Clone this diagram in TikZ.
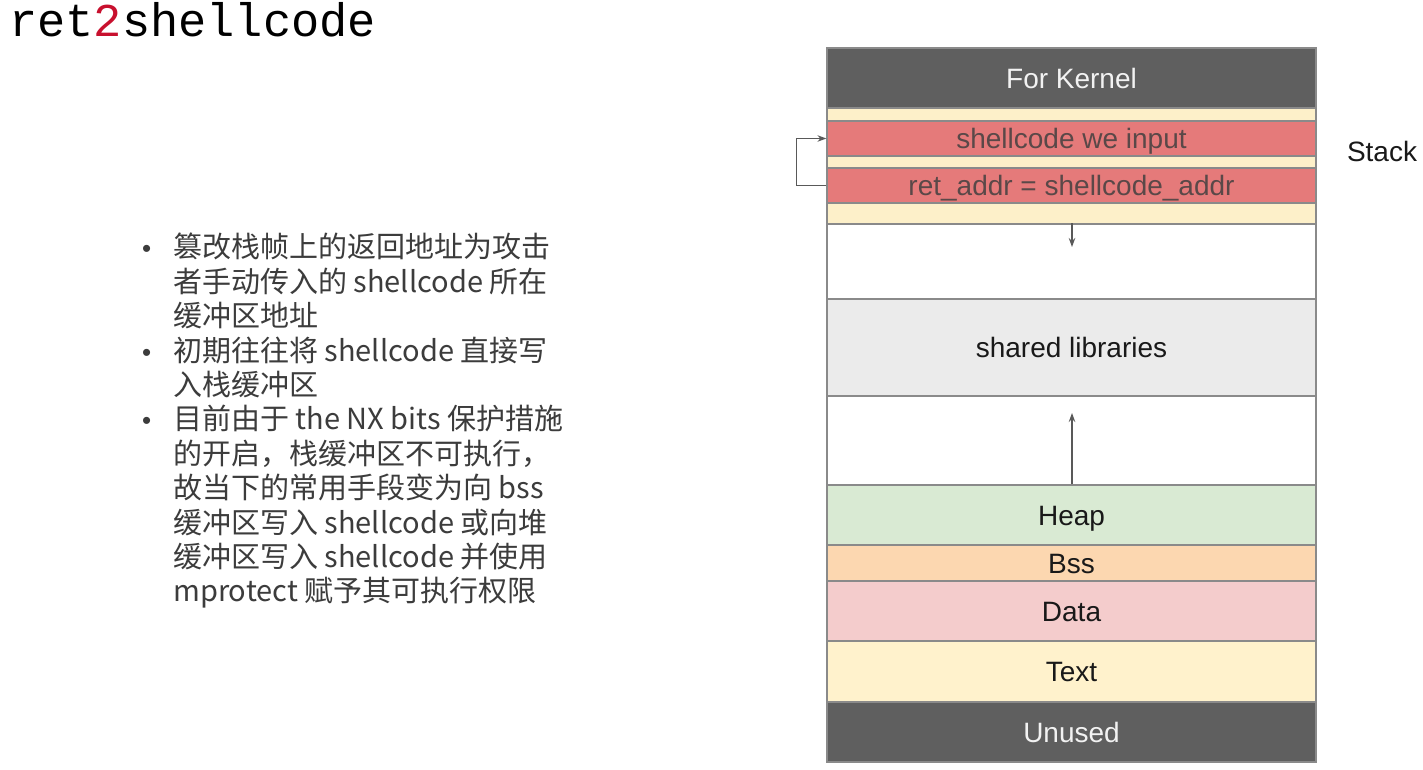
\documentclass[tikz,border=0pt]{standalone}
\usepackage{fontspec}
\setmainfont{Liberation Sans}
\newfontfamily\cjk{Noto Sans CJK SC}
\newfontfamily\titlemono{Liberation Mono}
\usetikzlibrary{arrows.meta}
\definecolor{kern}{HTML}{5F5F5F}
\definecolor{cream}{HTML}{FDF0C9}
\definecolor{stkred}{HTML}{E57A7A}
\definecolor{stktext}{HTML}{5A4848}
\definecolor{shlibc}{HTML}{EBEBEB}
\definecolor{heapc}{HTML}{D9EAD3}
\definecolor{bssc}{HTML}{FCD7B0}
\definecolor{datac}{HTML}{F4CCCC}
\definecolor{textc}{HTML}{FFF2CC}
\definecolor{edge}{HTML}{8A8A8A}
\definecolor{bodytext}{HTML}{3C3C3C}
\definecolor{titlered}{HTML}{C8102E}
\newcommand{\bulletmark}{\llap{\normalfont\fontsize{26}{26}\selectfont •\hspace{22pt}}}
\begin{document}
\begin{tikzpicture}[x=1pt,y=-1pt,
  band/.style={draw=edge, line width=1.2pt, minimum width=489pt, inner sep=0pt,
    text height=20pt, text depth=0pt,
    font=\fontsize{28}{28}\selectfont, text=black!90},
  emptyband/.style={band, text height=0pt, text depth=0pt},
  conn/.style={draw=black!65, line width=1.1pt, -{Stealth[length=9pt,width=6.5pt]}}]
\useasboundingbox (0,0) rectangle (1423,769);
\fill[white] (0,0) rectangle (1423,769);
% title
\node[anchor=base west, inner sep=0pt, font=\titlemono\fontsize{47}{47}\selectfont] (title) at (9,36) {ret\textcolor{titlered}{2}shellcode};
% bullet text
\node[anchor=north west, inner sep=0pt, align=left, text=bodytext,
  font=\cjk\fontsize{29}{34.4}\selectfont] (body) at (173,233) {%
\bulletmark 篡改栈帧上的返回地址为攻击\\
者手动传入的 shellcode 所在\\
缓冲区地址\\
\bulletmark 初期往往将 shellcode 直接写\\
入栈缓冲区\\
\bulletmark 目前由于 the NX bits 保护措施\\
的开启，栈缓冲区不可执行，\\
故当下的常用手段变为向 bss\\
缓冲区写入 shellcode 或向堆\\
缓冲区写入 shellcode 并使用\\
mprotect 赋予其可执行权限};
% memory layout
\node[band, fill=kern, minimum height=60pt, text=white!95!black] (kernel) at (1071.5,78) {For Kernel};
\node[emptyband, fill=cream, minimum height=13pt] (cr1) at (1071.5,114.5) {};
\node[band, fill=stkred, minimum height=35pt, text=stktext] (shell) at (1071.5,138.5) {shellcode we input};
\node[emptyband, fill=cream, minimum height=12pt] (cr2) at (1071.5,162) {};
\node[band, fill=stkred, minimum height=35pt, text=stktext] (ret) at (1071.5,185.5) {ret\_addr = shellcode\_addr};
\node[emptyband, fill=cream, minimum height=21pt] (cr3) at (1071.5,213.5) {};
\node[emptyband, fill=white, minimum height=75pt] (free1) at (1071.5,261.5) {};
\node[band, fill=shlibc, minimum height=97pt] (shlib) at (1071.5,347.5) {shared libraries};
\node[emptyband, fill=white, minimum height=89pt] (free2) at (1071.5,440.5) {};
\node[band, fill=heapc, minimum height=60pt] (heap) at (1071.5,515) {Heap};
\node[band, fill=bssc, minimum height=36pt] (bss) at (1071.5,563) {Bss};
\node[band, fill=datac, minimum height=60pt] (data) at (1071.5,611) {Data};
\node[band, fill=textc, minimum height=61pt] (textseg) at (1071.5,671.5) {Text};
\node[band, fill=kern, minimum height=60pt, text=white!95!black] (unused) at (1071.5,732) {Unused};
\node[font=\fontsize{28}{28}\selectfont, text=black!90] (stack) at (1382,151) {Stack};
% arrows
\coordinate (downend) at (1072,247);
\coordinate (upend) at (1072,413);
\draw[conn] (free1.north -| downend) -- (downend);
\draw[conn] (heap.north -| upend) -- (upend);
\draw[conn] (ret.west) -- ++(-30,0) |- (shell.west);
\end{tikzpicture}
\end{document}
